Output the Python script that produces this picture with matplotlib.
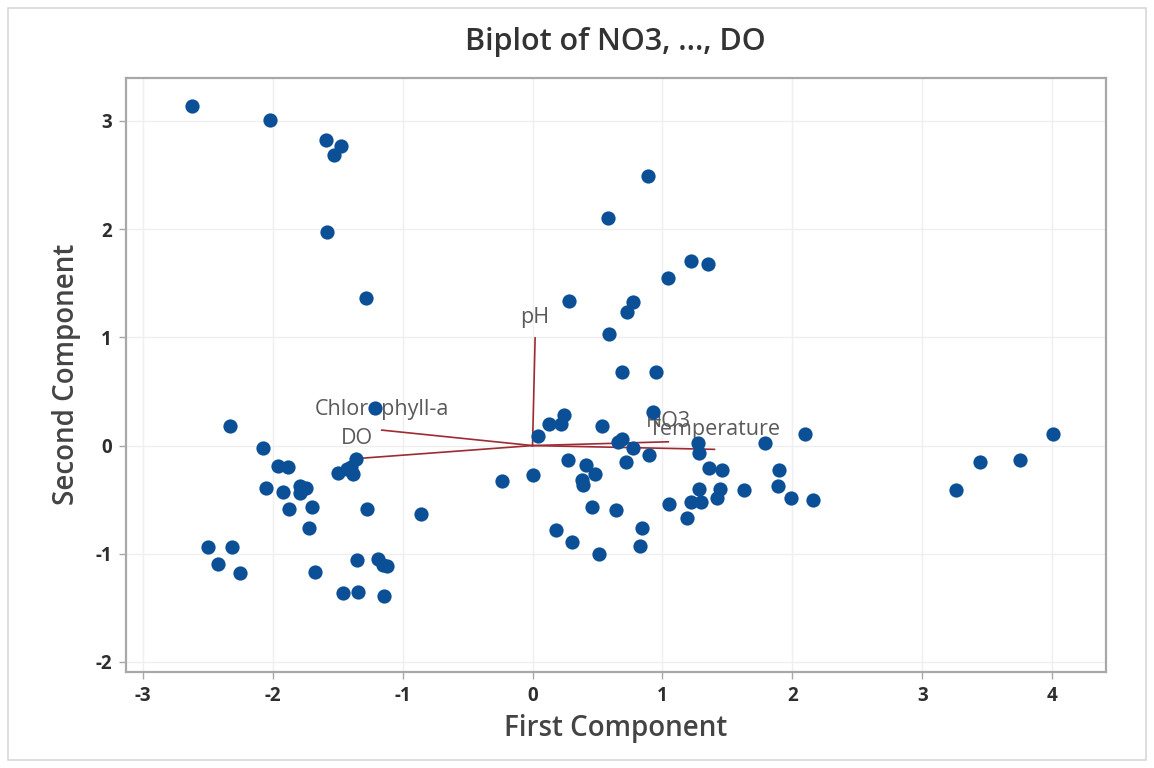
import matplotlib
matplotlib.use("Agg")
import matplotlib.pyplot as plt
from matplotlib.patches import Rectangle

plt.rcParams['font.family'] = ['Open Sans', 'DejaVu Sans']

# Scores: first and second principal components
pc1 = [-2.62, -2.02, -1.59, -1.47, -1.53, -1.58, -1.28,
       -1.21, -2.33, -2.07, -1.96, -1.88, -1.36, -1.40, -1.50, -1.43, -1.38,
       -2.05, -1.92, -1.79, -1.74, -1.79, -1.70, -1.87, -1.72, -1.27, -0.855, -0.235,
       -2.50, -2.31, -2.42, -2.25, -1.67, -1.35, -1.19, -1.15, -1.12, -1.46, -1.34, -1.14,
       0.886, 0.58, 1.22, 1.35, 1.04, 0.283, 0.775, 0.73, 0.59, 0.686, 0.948,
       0.93, 0.04, 0.13, 0.24, 0.22, 0.535, 0.66, 0.686, 0.775, 0.90, 1.27, 1.28,
       1.79, 2.10, 0.27, 0.41, 0.48, 0.38, 0.39, 0.717, 0.006, 1.36, 1.455, 1.90,
       1.28, 1.44, 1.42, 1.22, 1.30, 1.63, 1.885, 1.99, 2.16, 1.05, 1.19, 0.455,
       0.64, 0.84, 0.825, 0.18, 0.30, 0.51,
       3.26, 3.44, 3.75, 4.006]
pc2 = [3.14, 3.005, 2.82, 2.77, 2.69, 1.97, 1.36,
       0.35, 0.18, -0.02, -0.19, -0.20, -0.12, -0.20, -0.25, -0.22, -0.26,
       -0.39, -0.43, -0.37, -0.39, -0.44, -0.57, -0.59, -0.76, -0.59, -0.63, -0.33,
       -0.94, -0.94, -1.09, -1.18, -1.17, -1.06, -1.05, -1.10, -1.11, -1.36, -1.35, -1.39,
       2.49, 2.10, 1.71, 1.68, 1.55, 1.34, 1.33, 1.23, 1.03, 0.68, 0.68,
       0.31, 0.09, 0.20, 0.28, 0.20, 0.18, 0.035, 0.06, -0.02, -0.09, 0.02, -0.07,
       0.02, 0.11, -0.13, -0.18, -0.26, -0.32, -0.36, -0.15, -0.27, -0.21, -0.23, -0.23,
       -0.40, -0.40, -0.48, -0.52, -0.52, -0.41, -0.37, -0.48, -0.50, -0.54, -0.67, -0.57,
       -0.60, -0.76, -0.925, -0.78, -0.89, -1.00,
       -0.41, -0.15, -0.13, 0.11]

# Loadings (variable vectors)
var_names = ['NO3', 'Temperature', 'pH', 'Chlorophyll-a', 'DO']
load_x = [1.045, 1.40, 0.02, -1.16, -1.35]
load_y = [0.035, -0.035, 0.995, 0.143, -0.12]

xticks = [-3, -2, -1, 0, 1, 2, 3, 4]
yticks = [-2, -1, 0, 1, 2, 3]

W, H = 1154, 768
fig = plt.figure(figsize=(W / 100, H / 100), dpi=100)
fig.patch.set_facecolor('white')
fig.add_artist(Rectangle((8 / W, 8 / H), (W - 16) / W, (H - 16) / H,
                         transform=fig.transFigure, fill=False,
                         edgecolor='#d8d8d8', linewidth=1.2))

ax = fig.add_axes([125.7 / W, 1 - 671.7 / H, (1105.7 - 125.7) / W, (671.7 - 77.7) / H])
ax.set_xlim(-3.13, 4.41)
ax.set_ylim(-2.09, 3.40)
ax.set_xticks(xticks)
ax.set_yticks(yticks)
ax.set_xticklabels([str(t) for t in xticks])
ax.set_yticklabels([str(t) for t in yticks])
ax.grid(True, color='#efefef', linewidth=1.0, zorder=0)
ax.set_axisbelow(True)

for side in ['left', 'bottom', 'right', 'top']:
    ax.spines[side].set_color('#a8a8a8')
    ax.spines[side].set_linewidth(1.6)
ax.tick_params(axis='both', direction='out', length=5, width=1, color='#a8a8a8',
               labelsize=13.5, labelcolor='#2e2e2e', pad=5)
for lab in ax.get_xticklabels() + ax.get_yticklabels():
    lab.set_fontweight('bold')

# vectors
for name, lx, ly in zip(var_names, load_x, load_y):
    ax.plot([0, lx], [0, ly], color='#9e2a33', linewidth=1.2, zorder=2)
    ax.annotate(name, (lx, ly), xytext=(0, 14.5), textcoords='offset points',
                ha='center', va='center', fontsize=15.5, color='#5a5a5a', zorder=3)

ax.scatter(pc1, pc2, s=105, color='#0b4f97', marker='o', linewidths=0, zorder=4)

ax.set_xlabel('First Component', fontsize=20, color='#444444', fontweight='semibold', labelpad=6)
ax.set_ylabel('Second Component', fontsize=20, color='#444444', fontweight='semibold', labelpad=10)
fig.text(0.5 * (125.7 + 1105.7) / W, 1 - 42 / H, 'Biplot of NO3, ..., DO', ha='center', va='center',
         fontsize=22, color='#333333', fontweight='semibold')

fig.savefig('out.png', dpi=100)
